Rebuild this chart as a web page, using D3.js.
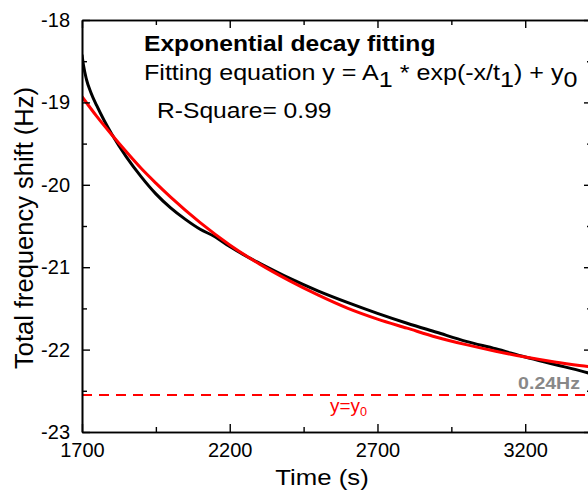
<!DOCTYPE html>
<html>
<head>
<meta charset="utf-8">
<script src="https://cdn.jsdelivr.net/npm/d3@7.9.0/dist/d3.min.js"></script>
<style>
  html, body { margin: 0; padding: 0; background: #fff; overflow: hidden; }
  svg { display: block; font-family: "Liberation Sans", Arial, sans-serif; }
</style>
</head>
<body>
<svg id="chart" width="588" height="493"></svg>
<script>
// measured frequency shift (black)
const timeMeasured = [1700, 1705, 1715, 1730, 1750, 1775, 1800, 1850, 1900, 1950, 2000, 2050, 2100, 2150, 2200, 2268, 2300, 2400, 2500, 2600, 2700, 2800, 2900, 3000, 3100, 3200, 3300, 3400, 3430];
const shiftMeasured = [-18.42, -18.55, -18.72, -18.88, -19.04, -19.22, -19.38, -19.66, -19.90, -20.11, -20.28, -20.42, -20.54, -20.63, -20.75, -20.89, -20.95, -21.13, -21.29, -21.43, -21.56, -21.68, -21.79, -21.90, -21.99, -22.09, -22.18, -22.27, -22.30];

// exponential decay fit (red)
const timeFit = [1700, 1750, 1800, 1850, 1900, 1950, 2000, 2100, 2200, 2300, 2400, 2500, 2600, 2700, 2800, 2900, 3000, 3100, 3200, 3300, 3400, 3430];
const shiftFit = [-18.93, -19.17, -19.39, -19.60, -19.80, -19.98, -20.15, -20.46, -20.73, -20.96, -21.16, -21.34, -21.50, -21.63, -21.74, -21.85, -21.94, -22.02, -22.09, -22.15, -22.20, -22.21];

const y0Value = -22.55;

const xMajorTicks = [1700, 2200, 2700, 3200];
const xMinorTicks = [1950, 2450, 2950];
const yMajorTicks = [-18, -19, -20, -21, -22, -23];
const yMinorTicks = [-18.5, -19.5, -20.5, -21.5, -22.5];

const mLeft = 82, mTop = 20, mBottom = 432, mRight = 592;

const svg = d3.select('#chart');

const x = d3.scaleLinear().domain([1700, 3426]).range([mLeft, mRight]);
const y = d3.scaleLinear().domain([-23, -18]).range([mBottom, mTop]);

svg.append('defs').append('clipPath').attr('id', 'plot')
  .append('rect').attr('x', mLeft).attr('y', mTop)
  .attr('width', mRight - mLeft).attr('height', mBottom - mTop);

const plot = svg.append('g').attr('clip-path', 'url(#plot)');

// y = y0 asymptote
plot.append('line')
  .attr('x1', mLeft).attr('x2', mRight)
  .attr('y1', y(y0Value)).attr('y2', y(y0Value))
  .attr('stroke', '#ff0000').attr('stroke-width', 2)
  .attr('stroke-dasharray', '10,7');

const line = d3.line().curve(d3.curveMonotoneX);

plot.append('path')
  .attr('d', line(timeMeasured.map((t, i) => [x(t), y(shiftMeasured[i])])))
  .attr('fill', 'none').attr('stroke', '#000').attr('stroke-width', 3);

plot.append('path')
  .attr('d', line(timeFit.map((t, i) => [x(t), y(shiftFit[i])])))
  .attr('fill', 'none').attr('stroke', '#ff0000').attr('stroke-width', 3);

// axes: inward ticks on all four sides
function styleAxis(g) {
  g.select('.domain').attr('stroke', '#000').attr('stroke-width', 1.6);
  g.selectAll('.tick line').attr('stroke', '#000').attr('stroke-width', 1.4);
  g.selectAll('text').attr('font-size', 20).attr('fill', '#000')
    .attr('font-family', '"Liberation Sans", Arial, sans-serif');
}

svg.append('g').attr('transform', `translate(0,${mBottom})`)
  .call(d3.axisBottom(x).tickValues(xMajorTicks).tickSize(-8).tickPadding(11).tickSizeOuter(0).tickFormat(d3.format('d')))
  .call(styleAxis);
svg.append('g').attr('transform', `translate(0,${mBottom})`)
  .call(d3.axisBottom(x).tickValues(xMinorTicks).tickSize(-5).tickSizeOuter(0).tickFormat(''))
  .call(styleAxis);
svg.append('g').attr('transform', `translate(0,${mTop})`)
  .call(d3.axisTop(x).tickValues(xMajorTicks).tickSize(-8).tickSizeOuter(0).tickFormat(''))
  .call(styleAxis);
svg.append('g').attr('transform', `translate(0,${mTop})`)
  .call(d3.axisTop(x).tickValues(xMinorTicks).tickSize(-5).tickSizeOuter(0).tickFormat(''))
  .call(styleAxis);

svg.append('g').attr('transform', `translate(${mLeft},0)`)
  .call(d3.axisLeft(y).tickValues(yMajorTicks).tickSize(-8).tickPadding(12).tickSizeOuter(0).tickFormat(d => d))
  .call(styleAxis);
svg.append('g').attr('transform', `translate(${mLeft},0)`)
  .call(d3.axisLeft(y).tickValues(yMinorTicks).tickSize(-5).tickSizeOuter(0).tickFormat(''))
  .call(styleAxis);
svg.append('g').attr('transform', `translate(${mRight},0)`)
  .call(d3.axisRight(y).tickValues(yMajorTicks).tickSize(-8).tickSizeOuter(0).tickFormat(''))
  .call(styleAxis);
svg.append('g').attr('transform', `translate(${mRight},0)`)
  .call(d3.axisRight(y).tickValues(yMinorTicks).tickSize(-5).tickSizeOuter(0).tickFormat(''))
  .call(styleAxis);

// text placed at (x, y) and stretched sideways by sx, like the exported figure
function label(px, py, size, sx, anchor) {
  return svg.append('text')
    .attr('transform', `translate(${px},${py}) scale(${sx},1)`)
    .attr('text-anchor', anchor || 'start')
    .attr('font-size', size);
}

// axis titles
label(322, 485, 23, 1.12, 'middle').text('Time (s)');

svg.append('text')
  .attr('transform', `translate(33,${(mTop + mBottom) / 2 + 2}) rotate(-90)`)
  .attr('text-anchor', 'middle').attr('font-size', 25.5)
  .text('Total frequency shift (Hz)');

// annotation block
label(144, 51, 22, 1.12).attr('font-weight', 'bold').text('Exponential decay fitting');

const eq = label(144, 80, 22, 1.14);
eq.append('tspan').text('Fitting equation y = A');
eq.append('tspan').attr('dy', 7).text('1');
eq.append('tspan').attr('dy', -7).text(' * exp(-x/t');
eq.append('tspan').attr('dy', 7).text('1');
eq.append('tspan').attr('dy', -7).text(') + y');
eq.append('tspan').attr('dy', 7).text('0');

label(157, 118, 22, 1.12).text('R-Square= 0.99');

label(580, 389, 17, 1.15, 'end').attr('font-weight', 'bold')
  .attr('fill', '#888888').text('0.24Hz');

const yl = label(330, 412, 18, 1.05).attr('fill', '#ff0000');
yl.append('tspan').text('y=y');
yl.append('tspan').attr('dy', 4).attr('font-size', 12).text('0');
</script>
</body>
</html>
